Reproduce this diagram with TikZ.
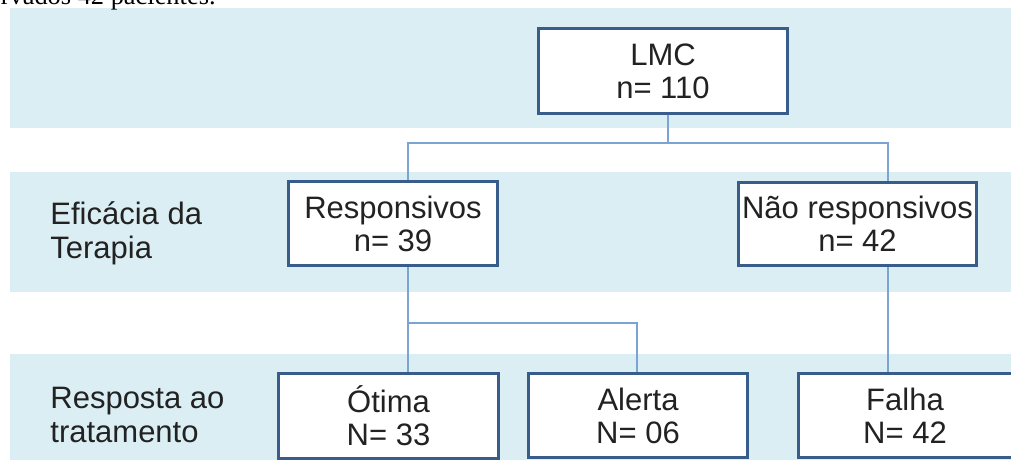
\documentclass[tikz,border=0pt]{standalone}
\usepackage{fontspec}
\setmainfont{Liberation Sans}
\newfontfamily\docserif{Liberation Serif}
\usepackage{xcolor}
\usetikzlibrary{positioning}
\definecolor{bandblue}{HTML}{DBEEF4}
\definecolor{boxblue}{HTML}{385D8A}
\definecolor{linkblue}{HTML}{7BA3D4}
\definecolor{textgray}{HTML}{222222}

\begin{document}
\begin{tikzpicture}[x=0.5pt,y=-0.5pt,
	box/.style={rectangle,draw=boxblue,line width=1.5pt,fill=white,align=center,
		inner sep=0pt,text=textgray,font=\fontsize{15.5}{16.5}\selectfont},
	rowtitle/.style={anchor=west,align=left,inner sep=0pt,text=textgray,
		font=\fontsize{15.5}{16.8}\selectfont},
	link/.style={draw=linkblue,line width=0.8pt}]
	 \useasboundingbox (0,0) rectangle (1011,462);

	 \fill[bandblue] (10,8) rectangle (1011,128);
	 \fill[bandblue] (10,172) rectangle (1011,292);
	 \fill[bandblue] (10,354) rectangle (1011,460);

	 \node at (216,4) [anchor=base east,inner sep=0pt,font=\docserif\fontsize{13.2}{15}\selectfont] (caption) {rvados 42 pacientes.};

	 \node at (50,233) [rowtitle] (eficacia) {Eficácia da\\Terapia};
	 \node at (50,415) [rowtitle] (resposta) {Resposta ao\\tratamento};

	 \coordinate (split1) at (668,143);
	 \coordinate (busL) at (408,143);
	 \coordinate (busR) at (888,143);
	 \coordinate (split2) at (408,323);
	 \coordinate (busA) at (637,323);

	 \draw[link] (split1 |- 0,100) -- (split1);
	 \draw[link] (busL |- 0,200) |- (busR) -- (busR |- 0,200);
	 \draw[link] (busL |- 0,240) -- (busL |- 0,400);
	 \draw[link] (split2) -| (busA |- 0,400);
	 \draw[link] (busR |- 0,240) -- (busR |- 0,400);

	 \node at (663,71) [box,minimum width=124.5pt,minimum height=42.5pt] (lmc) {LMC\\n= 110};
	 \node at (393,223.5) [box,minimum width=104.5pt,minimum height=42pt] (resp) {Responsivos\\n= 39};
	 \node at (857.5,224) [box,minimum width=119pt,minimum height=41.5pt] (naoresp) {Não responsivos\\n= 42};
	 \node at (388.5,416) [box,minimum width=110pt,minimum height=42.5pt] (otima) {Ótima\\N= 33};
	 \node at (638,415.5) [box,minimum width=109.5pt,minimum height=42pt] (alerta) {Alerta\\N= 06};
	 \node at (905,415.5) [box,minimum width=107pt,minimum height=42pt] (falha) {Falha\\N= 42};

\end{tikzpicture}
\end{document}
